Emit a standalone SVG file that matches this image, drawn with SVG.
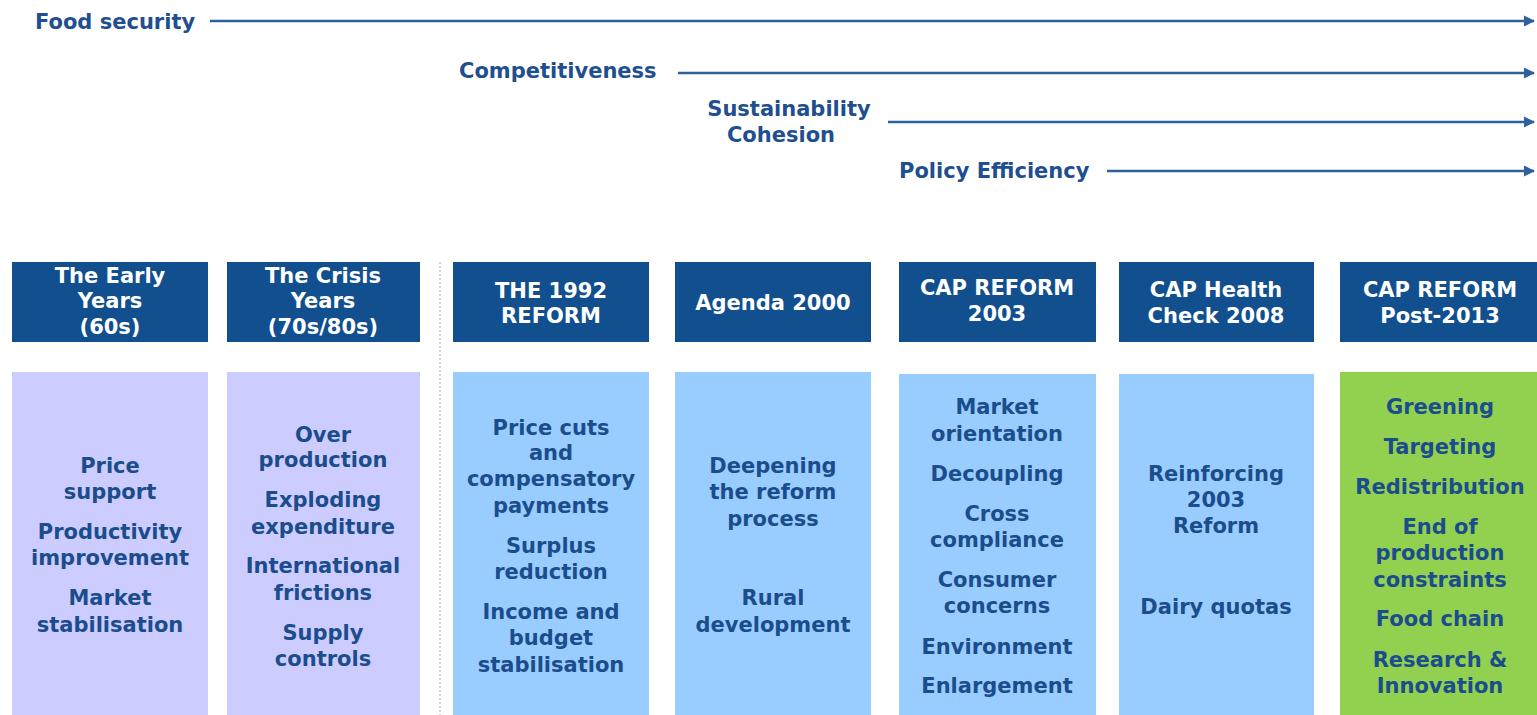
<svg xmlns="http://www.w3.org/2000/svg" width="1537" height="715" viewBox="0 0 1537 715">
<style>
.lbl{font-family:"DejaVu Sans",Verdana,sans-serif;font-weight:bold;font-size:21px;fill:#1f4f8f}
.hdr{fill:#114f8e}
.ht{font-family:"DejaVu Sans",Verdana,sans-serif;font-weight:bold;font-size:21px;fill:#ffffff;text-anchor:middle}
.bt{font-family:"DejaVu Sans",Verdana,sans-serif;font-weight:bold;font-size:21px;fill:#1b4d8c;text-anchor:middle}
.lav{fill:#ccccff}
.blu{fill:#99ccff}
.grn{fill:#92d050}
.ax{stroke:#2f609b;stroke-width:2.5;fill:none}
</style>
<defs>
<marker id="ah" viewBox="0 0 10 10" refX="9" refY="5" markerWidth="4.5" markerHeight="4.5" orient="auto" markerUnits="strokeWidth">
<path d="M0,0 L10,5 L0,10 z" fill="#2f609b"/>
</marker>
</defs>
<rect width="1537" height="715" fill="#ffffff"/>
<g id="themes">
<text class="lbl" x="35" y="29">Food security</text>
<text class="lbl" x="459" y="78">Competitiveness</text>
<text class="lbl" x="789" y="116" text-anchor="middle">Sustainability</text>
<text class="lbl" x="781" y="142" text-anchor="middle">Cohesion</text>
<text class="lbl" x="899" y="178">Policy Efficiency</text>
</g>
<g id="connectors">
<line class="ax" x1="210" y1="21" x2="1534" y2="21" marker-end="url(#ah)"/>
<line class="ax" x1="678" y1="73" x2="1534" y2="73" marker-end="url(#ah)"/>
<line class="ax" x1="888" y1="122" x2="1534" y2="122" marker-end="url(#ah)"/>
<line class="ax" x1="1107" y1="171" x2="1534" y2="171" marker-end="url(#ah)"/>
</g>
<line x1="440" y1="262" x2="440" y2="715" stroke="#c8c8c8" stroke-width="1.5" stroke-dasharray="2,2"/>
<g id="col1">
<rect class="hdr" x="12" y="262" width="196" height="80"/>
<text class="ht" x="110" y="283">The Early</text>
<text class="ht" x="110" y="308">Years</text>
<text class="ht" x="110" y="334">(60s)</text>
<rect class="lav" x="12" y="372" width="196" height="343"/>
<text class="bt" x="110" y="473">Price</text>
<text class="bt" x="110" y="499">support</text>
<text class="bt" x="110" y="539">Productivity</text>
<text class="bt" x="110" y="565">improvement</text>
<text class="bt" x="110" y="605">Market</text>
<text class="bt" x="110" y="632">stabilisation</text>
</g>
<g id="col2">
<rect class="hdr" x="227" y="262" width="193" height="80"/>
<text class="ht" x="323" y="283">The Crisis</text>
<text class="ht" x="323" y="308">Years</text>
<text class="ht" x="323" y="334">(70s/80s)</text>
<rect class="lav" x="227" y="372" width="193" height="343"/>
<text class="bt" x="323" y="442">Over</text>
<text class="bt" x="323" y="467">production</text>
<text class="bt" x="323" y="507">Exploding</text>
<text class="bt" x="323" y="534">expenditure</text>
<text class="bt" x="323" y="573">International</text>
<text class="bt" x="323" y="600">frictions</text>
<text class="bt" x="323" y="640">Supply</text>
<text class="bt" x="323" y="666">controls</text>
</g>
<g id="col3">
<rect class="hdr" x="453" y="262" width="196" height="80"/>
<text class="ht" x="551" y="298">THE 1992</text>
<text class="ht" x="551" y="323">REFORM</text>
<rect class="blu" x="453" y="372" width="196" height="343"/>
<text class="bt" x="551" y="435">Price cuts</text>
<text class="bt" x="551" y="460">and</text>
<text class="bt" x="551" y="486">compensatory</text>
<text class="bt" x="551" y="513">payments</text>
<text class="bt" x="551" y="553">Surplus</text>
<text class="bt" x="551" y="579">reduction</text>
<text class="bt" x="551" y="619">Income and</text>
<text class="bt" x="551" y="645">budget</text>
<text class="bt" x="551" y="672">stabilisation</text>
</g>
<g id="col4">
<rect class="hdr" x="675" y="262" width="196" height="80"/>
<text class="ht" x="773" y="310">Agenda 2000</text>
<rect class="blu" x="675" y="372" width="196" height="343"/>
<text class="bt" x="773" y="473">Deepening</text>
<text class="bt" x="773" y="499">the reform</text>
<text class="bt" x="773" y="526">process</text>
<text class="bt" x="773" y="605">Rural</text>
<text class="bt" x="773" y="632">development</text>
</g>
<g id="col5">
<rect class="hdr" x="899" y="262" width="197" height="80"/>
<text class="ht" x="997" y="295">CAP REFORM</text>
<text class="ht" x="997" y="321">2003</text>
<rect class="blu" x="899" y="374" width="197" height="341"/>
<text class="bt" x="997" y="414">Market</text>
<text class="bt" x="997" y="441">orientation</text>
<text class="bt" x="997" y="481">Decoupling</text>
<text class="bt" x="997" y="521">Cross</text>
<text class="bt" x="997" y="547">compliance</text>
<text class="bt" x="997" y="587">Consumer</text>
<text class="bt" x="997" y="613">concerns</text>
<text class="bt" x="997" y="654">Environment</text>
<text class="bt" x="997" y="693">Enlargement</text>
</g>
<g id="col6">
<rect class="hdr" x="1119" y="262" width="195" height="80"/>
<text class="ht" x="1216" y="297">CAP Health</text>
<text class="ht" x="1216" y="323">Check 2008</text>
<rect class="blu" x="1119" y="374" width="195" height="341"/>
<text class="bt" x="1216" y="481">Reinforcing</text>
<text class="bt" x="1216" y="507">2003</text>
<text class="bt" x="1216" y="533">Reform</text>
<text class="bt" x="1216" y="614">Dairy quotas</text>
</g>
<g id="col7">
<rect class="hdr" x="1340" y="262" width="197" height="80"/>
<text class="ht" x="1440" y="297">CAP REFORM</text>
<text class="ht" x="1440" y="323">Post-2013</text>
<rect class="grn" x="1340" y="372" width="197" height="343"/>
<text class="bt" x="1440" y="414">Greening</text>
<text class="bt" x="1440" y="454">Targeting</text>
<text class="bt" x="1440" y="494">Redistribution</text>
<text class="bt" x="1440" y="534">End of</text>
<text class="bt" x="1440" y="560">production</text>
<text class="bt" x="1440" y="587">constraints</text>
<text class="bt" x="1440" y="626">Food chain</text>
<text class="bt" x="1440" y="667">Research &amp;</text>
<text class="bt" x="1440" y="693">Innovation</text>
</g>
</svg>
